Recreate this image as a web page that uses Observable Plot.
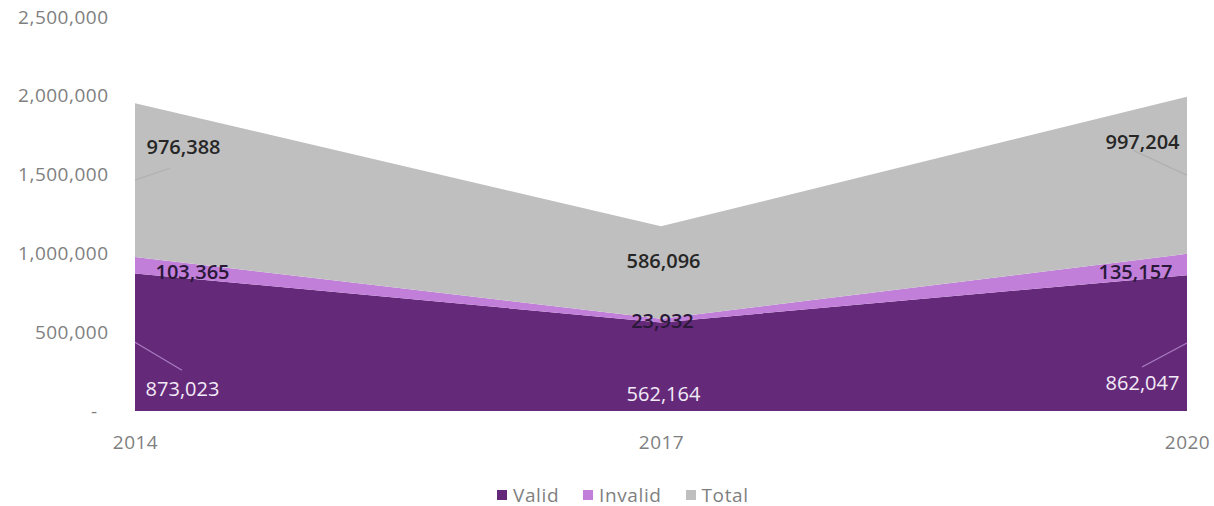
<!DOCTYPE html>
<html>
<head>
<meta charset="utf-8">
<script src="https://cdn.jsdelivr.net/npm/d3@7"></script>
<script src="https://cdn.jsdelivr.net/npm/@observablehq/plot@0.6"></script>
<style>
  html, body { margin: 0; padding: 0; background: #fff; }
  #chart svg { display: block; }
  #chart svg text { letter-spacing: 0.5px; }
  .legend { height: 34px; box-sizing: border-box; padding-top: 11px; padding-left: 497px;
            font-family: "Open Sans", sans-serif; font-size: 19px; color: #7f7f7f; line-height: 20px;
            letter-spacing: 0.6px; display: flex; align-items: center; }
  .legend span.item { display: inline-flex; align-items: center; margin-right: 24px; }
  .legend span.sw { display: inline-block; width: 10px; height: 10px; margin-right: 6px; }
</style>
</head>
<body>
<div id="chart"></div>
<div class="legend" id="legend"></div>
<script>
// ---- data ----
const years = [2014, 2017, 2020];
const seriesNames = ["Valid", "Invalid", "Total"];
const valid = [873023, 562164, 862047];
const invalid = [103365, 23932, 135157];
const total = [976388, 586096, 997204];
const yTicks = [0, 500000, 1000000, 1500000, 2000000, 2500000];

// ---- style / layout ----
const colors = ["#65297A", "#C17FDA", "#BFBFBF"];
const labelColors = ["#F3EBF7", "#2A1838", "#262626"];
const labelWeights = [400, 600, 600];
// pixel offsets of each data label from the middle of its band [series][year]
const labelOffsets = [
  [[47, 47], [2, 27], [-45, 40]],
  [[57, 7], [1, 1], [-52, 8]],
  [[48, -33], [2, -11], [-45, -33]]
];
// leader lines [series, yearIndex, endDx, endDy, colour]
const leaders = [
  [0, 0, 47, 28, "#A97CC0"],
  [2, 0, 35, -12, "#B2B2B2"],
  [0, 2, -45, 24, "#A97CC0"],
  [2, 2, -54, -25, "#AEAEAE"]
];

const seriesValues = [valid, invalid, total];
const rows = [];
seriesNames.forEach((s, si) => years.forEach((yr, yi) => rows.push({series: s, year: yr, value: seriesValues[si][yi]})));

// middles of stacked bands
const labels = [];
seriesNames.forEach((s, si) => years.forEach((yr, yi) => {
  let base = 0;
  for (let k = 0; k < si; k++) base += seriesValues[k][yi];
  const v = seriesValues[si][yi];
  labels.push({si, yi, year: yr, mid: base + v / 2, text: d3.format(",")(v)});
}));

const fmtY = d => d === 0 ? "-\u00a0\u00a0" : d3.format(",")(d);

const chart = Plot.plot({
  width: 1214,
  height: 472,
  marginLeft: 135,
  marginRight: 27,
  marginTop: 17,
  marginBottom: 61,
  style: {fontFamily: "Open Sans, sans-serif", fontSize: "19px", color: "#7f7f7f", background: "white", overflow: "visible"},
  x: {domain: [2014, 2020], ticks: years, tickFormat: d => String(d), tickSize: 0, tickPadding: 24, label: null},
  y: {domain: [0, 2500000], ticks: yTicks, tickFormat: fmtY, tickSize: 0, tickPadding: 27, label: null},
  color: {domain: seriesNames, range: colors},
  marks: [
    Plot.areaY(rows, {x: "year", y: "value", z: "series", fill: "series", curve: "linear"}),
    ...labels.map(l => Plot.text([l], {
      x: "year", y: "mid", text: "text",
      dx: labelOffsets[l.si][l.yi][0], dy: labelOffsets[l.si][l.yi][1],
      fill: labelColors[l.si], fontSize: 20, fontWeight: labelWeights[l.si], textAnchor: "middle"
    }))
  ]
});

document.getElementById("chart").appendChild(chart);

// leader lines using the plot's own scales
const sx = chart.scale("x"), sy = chart.scale("y");
const svg = d3.select(chart);
const firstText = chart.querySelector("g[aria-label='text']");
const g = svg.insert("g", () => firstText);
leaders.forEach(([si, yi, ex, ey, c]) => {
  const l = labels.find(d => d.si === si && d.yi === yi);
  const x0 = sx.apply(l.year), y0 = sy.apply(l.mid);
  g.append("line").attr("x1", x0).attr("y1", y0).attr("x2", x0 + ex).attr("y2", y0 + ey)
    .attr("stroke", c).attr("stroke-width", 1.2);
});
svg.selectAll("g[aria-label='text'] text").style("letter-spacing", "0px");

// legend
const legend = document.getElementById("legend");
seriesNames.forEach((s, i) => {
  const item = document.createElement("span");
  item.className = "item";
  item.innerHTML = `<span class="sw" style="background:${colors[i]}"></span>${s}`;
  legend.appendChild(item);
});
</script>
</body>
</html>
